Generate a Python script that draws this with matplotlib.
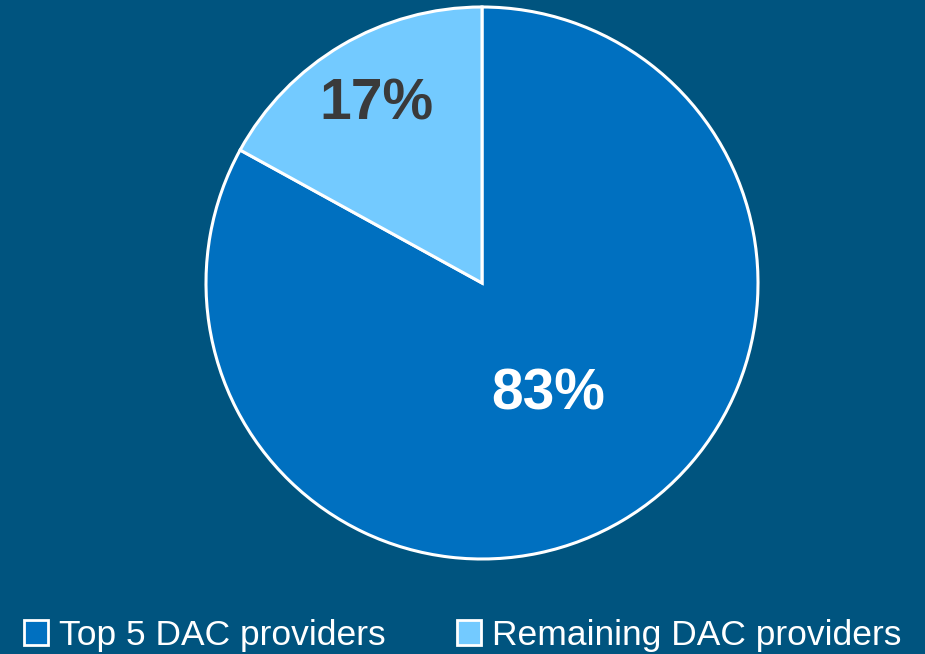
import matplotlib
matplotlib.use("Agg")
from matplotlib import pyplot as plt
from matplotlib.patches import Patch
import numpy as np

labels = ["Top 5 DAC providers", "Remaining DAC providers"]
shares = [83, 17]
colors = ["#0070C0", "#73CAFF"]
pct_colors = ["white", "#3A3A3A"]
pct_dist = [0.47, 0.75]

bg = "#00547F"
plt.rcParams['font.family'] = ['Liberation Sans', 'DejaVu Sans']

fig = plt.figure(figsize=(9.25, 6.54), dpi=100, facecolor=bg)
ax = fig.add_axes([206 / 925, 95 / 654, 552 / 925, 552 / 654])
ax.set_facecolor(bg)

wedges, texts, autotexts = ax.pie(
    shares, colors=colors, startangle=90, counterclock=False,
    radius=1, autopct="%d%%", pctdistance=0.5,
    wedgeprops=dict(edgecolor="white", linewidth=2.2),
)
for w, t, c, d in zip(wedges, autotexts, pct_colors, pct_dist):
    ang = np.deg2rad((w.theta1 + w.theta2) / 2)
    t.set_position((d * np.cos(ang), d * np.sin(ang)))
    t.set_color(c)
    t.set_fontsize(41)
    t.set_fontweight("bold")

ax.set_xlim(-1.0, 1.0)
ax.set_ylim(-1.0, 1.0)
ax.set_aspect("equal")
ax.axis("off")

handles = [Patch(facecolor=c, edgecolor="white", linewidth=2) for c in colors]
leg = fig.legend(handles, labels, loc="lower center", bbox_to_anchor=(0.5, -0.045),
                 ncol=2, frameon=False, fontsize=25.5, labelcolor="white",
                 handlelength=0.7, handleheight=0.7, handletextpad=0.3,
                 columnspacing=2.0)

fig.savefig("out.png", dpi=100, facecolor=bg)
